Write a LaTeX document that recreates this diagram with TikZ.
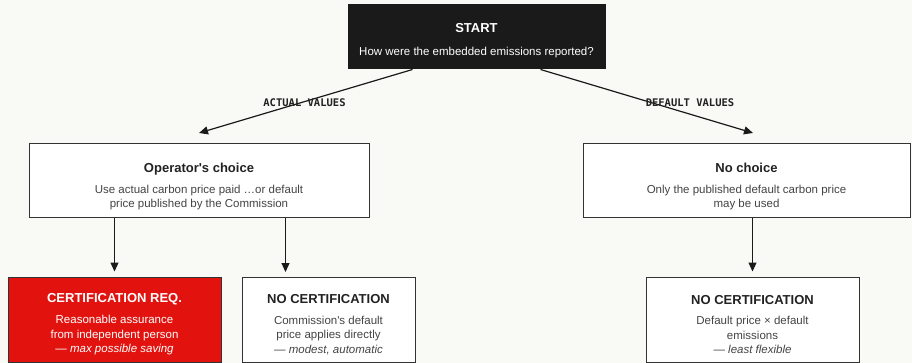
\documentclass[tikz,border=0pt]{standalone}
\usepackage{fontspec}
\setmainfont{Liberation Sans}
\newfontfamily\monof{DejaVu Sans Mono}
\usetikzlibrary{arrows.meta}
\definecolor{bg}{RGB}{249,249,246}
\definecolor{dark}{RGB}{26,26,26}
\definecolor{redf}{RGB}{226,18,14}
\definecolor{edge}{RGB}{51,51,51}
\definecolor{ttl}{RGB}{34,34,34}
\definecolor{bodytxt}{RGB}{68,68,68}
\newcommand{\ttlf}{\fontsize{13}{15}\selectfont\bfseries}
\newcommand{\bdyf}{\fontsize{11.5}{14.6}\selectfont}
\begin{document}
\begin{tikzpicture}[x=1pt,y=-1pt,
  box/.style={draw=edge, line width=1pt, fill=white, inner sep=0pt},
  startbox/.style={box, fill=dark, draw=dark},
  redbox/.style={box, fill=redf},
  txt/.style={align=center, inner sep=0pt, text=bodytxt, font=\bdyf},
  wtxt/.style={txt, text=white},
  arr/.style={draw=dark, line width=1.2pt, -{Triangle[length=9pt,width=8pt]}},
  lbl/.style={font=\monof\bfseries\fontsize{10.5}{12}\selectfont, text=ttl, inner sep=0pt}
]
\fill[bg] (0,0) rectangle (912,363);
\useasboundingbox (0,0) rectangle (912,363);

\node[startbox, minimum width=257pt, minimum height=64pt] (start) at (476.5,37) {};
\node[wtxt] (startt) at ([yshift=-3.5pt]start.center)
  {{\ttlf START}\\[8pt]How were the embedded emissions reported?};

\node[box, minimum width=340pt, minimum height=74pt] (op) at (199,181) {};
\node[txt] (opt) at ([yshift=-5.5pt]op.center)
  {{\ttlf\color{ttl}Operator\textquotesingle s choice}\\[6pt]Use actual carbon price paid …or default\\price published by the Commission};

\node[box, minimum width=327pt, minimum height=74pt] (nc) at (746.5,181) {};
\node[txt] (nct) at ([yshift=-5.5pt]nc.center)
  {{\ttlf\color{ttl}No choice}\\[6pt]Only the published default carbon price\\may be used};

\node[redbox, minimum width=213pt, minimum height=85pt] (cert) at (114.5,319.5) {};
\node[wtxt] (certt) at ([yshift=-5pt]cert.center)
  {{\ttlf CERTIFICATION REQ.}\\[6pt]Reasonable assurance\\from independent person\\— \textit{max possible saving}};

\node[box, minimum width=173pt, minimum height=85pt] (nocert) at (328.5,319.5) {};
\node[txt] (nocertt) at ([yshift=-5pt]nocert.center)
  {{\ttlf\color{ttl}NO CERTIFICATION}\\[6pt]Commission\textquotesingle s default\\price applies directly\\— \textit{modest, automatic}};

\node[box, minimum width=213pt, minimum height=85pt] (nocert2) at (752.5,319.5) {};
\node[txt] (nocert2t) at ([yshift=-5pt]nocert2.center)
  {{\ttlf\color{ttl}NO CERTIFICATION}\\[6pt]Default price × default\\emissions\\— \textit{least flexible}};

\coordinate (la) at (199,133);
\coordinate (ra) at (753,133);
\coordinate (mid) at (285.5,272);

\draw[arr] ([xshift=-64pt]start.south) -- (la);
\draw[arr] ([xshift=64pt]start.south) -- (ra);
\node[lbl] (lact) at (304.5,103) {ACTUAL VALUES};
\node[lbl] (ldef) at (690,103) {DEFAULT VALUES};

\draw[arr, shorten >=5pt] (op.south -| cert.north) -- (cert.north);
\draw[arr] (op.south -| mid) -- (mid);
\draw[arr, shorten >=5pt] (nc.south -| nocert2.north) -- (nocert2.north);
\end{tikzpicture}
\end{document}
